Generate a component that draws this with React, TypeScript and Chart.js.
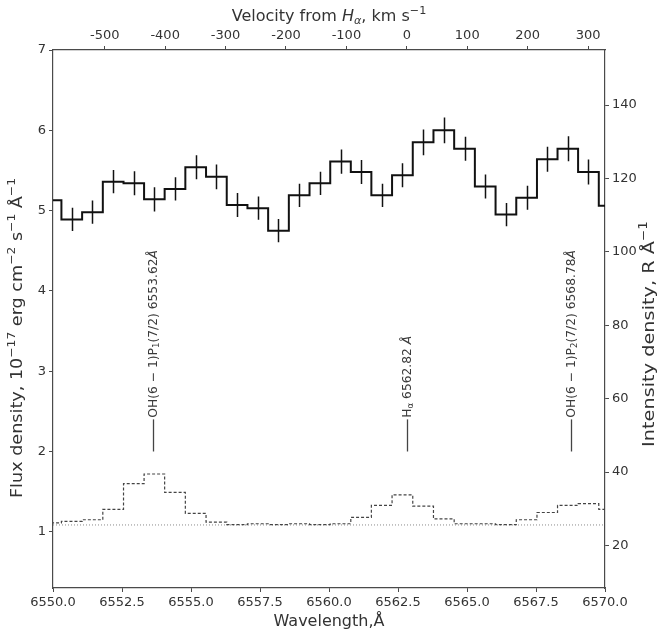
import React, { useEffect, useRef } from 'react';
import { Chart, registerables } from 'chart.js';

Chart.register(...registerables);

// ---------------- data ----------------
const REST_WL = 6562.82; // H-alpha rest wavelength, Å
const C_KMS = 299792.458;
const X_MIN = 6550.0;
const X_MAX = 6570.0;

// spectral bin centres (Å)
const binCenters = [
  6549.93, 6550.68, 6551.43, 6552.18, 6552.93, 6553.67, 6554.42, 6555.17,
  6555.92, 6556.67, 6557.42, 6558.17, 6558.92, 6559.67, 6560.42, 6561.16,
  6561.91, 6562.66, 6563.41, 6564.16, 6564.91, 6565.66, 6566.41, 6567.16,
  6567.91, 6568.65, 6569.40, 6570.15,
];

// observed flux density (10^-17 erg cm^-2 s^-1 Å^-1)
const flux = [
  5.13, 4.89, 4.98, 5.36, 5.34, 5.14, 5.27, 5.54,
  5.42, 5.07, 5.03, 4.75, 5.19, 5.34, 5.61, 5.48,
  5.19, 5.44, 5.85, 6.0, 5.77, 5.3, 4.95, 5.16,
  5.64, 5.77, 5.48, 5.06,
];

// 1-sigma errors
const fluxErr = [
  0.15, 0.145, 0.145, 0.145, 0.15, 0.15, 0.145, 0.15,
  0.155, 0.15, 0.145, 0.145, 0.145, 0.145, 0.15, 0.15,
  0.145, 0.15, 0.16, 0.16, 0.15, 0.15, 0.145, 0.15,
  0.155, 0.155, 0.155, 0.15,
];

// sky / model spectrum (dashed)
const sky = [
  1.11, 1.13, 1.15, 1.28, 1.6, 1.72, 1.49, 1.23,
  1.12, 1.09, 1.1, 1.09, 1.1, 1.09, 1.1, 1.18,
  1.33, 1.46, 1.32, 1.16, 1.1, 1.1, 1.09, 1.15,
  1.24, 1.33, 1.35, 1.28,
];

const continuumLevel = 1.085;

const wavelengthTicks = [6550.0, 6552.5, 6555.0, 6557.5, 6560.0, 6562.5, 6565.0, 6567.5, 6570.0];
const velocityTicks = [-500, -400, -300, -200, -100, 0, 100, 200, 300];
const fluxTicks = [1, 2, 3, 4, 5, 6, 7];
const intensityTicks = [20, 40, 60, 80, 100, 120, 140];

const FLUX_MIN = 0.3;
const FLUX_MAX = 7.0;
const INT_MIN = 8.4;
const INT_MAX = 155;

type Part = { t: string; sub?: boolean; sup?: boolean; italic?: boolean };

const lineWavelengths = [6553.62, 6562.82, 6568.78];
const lineLabels: Part[][] = [
  [{ t: 'OH(6 − 1)P' }, { t: '1', sub: true }, { t: '(7/2) 6553.62' }, { t: 'Å', italic: true }],
  [{ t: 'H' }, { t: 'α', sub: true }, { t: ' 6562.82 ' }, { t: 'Å', italic: true }],
  [{ t: 'OH(6 − 1)P' }, { t: '2', sub: true }, { t: '(7/2) 6568.78' }, { t: 'Å', italic: true }],
];
const markerFrom = 2.0;
const markerTo = 2.4;
const labelStart = 2.42;

const bottomTitle: Part[] = [{ t: 'Wavelength,Å' }];
const topTitle: Part[] = [
  { t: 'Velocity from ' },
  { t: 'H', italic: true },
  { t: 'α', sub: true, italic: true },
  { t: ', km s' },
  { t: '−1', sup: true },
];
const leftTitle: Part[] = [
  { t: 'Flux density, 10' },
  { t: '−17', sup: true },
  { t: ' erg cm' },
  { t: '−2', sup: true },
  { t: ' s' },
  { t: '−1', sup: true },
  { t: ' Å' },
  { t: '−1', sup: true },
];
const rightTitle: Part[] = [
  { t: 'Intensity density, R Å' },
  { t: '−1', sup: true },
];

const toVelocity = (wl: number) => ((wl - REST_WL) / REST_WL) * C_KMS;

// ---------------- styling ----------------
const FONT = 'DejaVu Sans';
const TEXT = '#333333';
const AXIS = '#4a4a4a';
const LABEL_SIZE = 12.3;
const TITLE_SIZE = 16;

function drawRich(
  ctx: CanvasRenderingContext2D,
  parts: Part[],
  x: number,
  y: number,
  rot: number,
  size: number,
  align: 'left' | 'center',
  color: string,
  stretch = 1,
) {
  ctx.save();
  ctx.translate(x, y);
  ctx.rotate(rot);
  ctx.scale(stretch, 1);
  ctx.fillStyle = color;
  ctx.textBaseline = 'middle';
  ctx.textAlign = 'left';
  const fontFor = (p: Part) =>
    `${p.italic ? 'italic ' : ''}${p.sub || p.sup ? size * 0.7 : size}px "${FONT}"`;
  let total = 0;
  parts.forEach((p) => {
    ctx.font = fontFor(p);
    total += ctx.measureText(p.t).width;
  });
  let cx = align === 'center' ? -total / 2 : 0;
  parts.forEach((p) => {
    ctx.font = fontFor(p);
    const dy = p.sub ? size * 0.28 : p.sup ? -size * 0.36 : 0;
    ctx.fillText(p.t, cx, dy);
    cx += ctx.measureText(p.t).width;
  });
  ctx.restore();
}

const overlayPlugin = {
  id: 'overlay',
  afterDatasetsDraw(chart: any) {
    const { ctx, chartArea, scales } = chart;
    const xs = scales.x;
    const ys = scales.y;
    ctx.save();
    ctx.beginPath();
    ctx.rect(chartArea.left, chartArea.top, chartArea.right - chartArea.left, chartArea.bottom - chartArea.top);
    ctx.clip();

    // error bars
    ctx.strokeStyle = '#111';
    ctx.lineWidth = 1.5;
    ctx.beginPath();
    binCenters.forEach((w, i) => {
      const px = Math.round(xs.getPixelForValue(w)) + 0.5;
      ctx.moveTo(px, ys.getPixelForValue(flux[i] - fluxErr[i]));
      ctx.lineTo(px, ys.getPixelForValue(flux[i] + fluxErr[i]));
    });
    ctx.stroke();

    // line markers and labels
    lineWavelengths.forEach((wl, i) => {
      const px = Math.round(xs.getPixelForValue(wl)) + 0.5;
      ctx.strokeStyle = '#444';
      ctx.lineWidth = 1.3;
      ctx.beginPath();
      ctx.moveTo(px, ys.getPixelForValue(markerFrom));
      ctx.lineTo(px, ys.getPixelForValue(markerTo));
      ctx.stroke();
      drawRich(ctx, lineLabels[i], px, ys.getPixelForValue(labelStart), -Math.PI / 2, LABEL_SIZE, 'left', '#3a3a3a');
    });
    ctx.restore();
  },
  afterDraw(chart: any) {
    const { ctx, chartArea } = chart;
    const midX = (chartArea.left + chartArea.right) / 2;
    drawRich(ctx, bottomTitle, midX, 622, 0, TITLE_SIZE, 'center', TEXT);
    drawRich(ctx, topTitle, midX, 17, 0, TITLE_SIZE, 'center', TEXT);
    drawRich(ctx, leftTitle, 18, 338, -Math.PI / 2, TITLE_SIZE, 'center', TEXT, 1.1);
    drawRich(ctx, rightTitle, 650, 334, -Math.PI / 2, 16.5, 'center', TEXT, 1.17);
  },
};

export default function App() {
  const canvasRef = useRef<HTMLCanvasElement | null>(null);

  useEffect(() => {
    document.body.style.margin = '0';
    const canvas = canvasRef.current;
    if (!canvas) return;
    Chart.defaults.font.family = FONT;

    const tickFont = { size: 13, family: FONT };
    const grid = {
      drawOnChartArea: false,
      drawTicks: true,
      tickLength: 4,
      color: AXIS,
      lineWidth: 1,
    };
    const border = { display: true, color: AXIS, width: 1.2 };

    const chart = new Chart(canvas, {
      type: 'line',
      data: {
        datasets: [
          {
            label: 'continuum',
            data: [
              { x: X_MIN, y: continuumLevel },
              { x: X_MAX, y: continuumLevel },
            ],
            borderColor: '#8a8a8a',
            borderWidth: 1,
            borderDash: [1, 2],
            pointRadius: 0,
            fill: false,
            clip: 0,
            order: 3,
          },
          {
            label: 'sky',
            data: binCenters.map((x, i) => ({ x, y: sky[i] })),
            stepped: 'middle',
            borderColor: '#444',
            borderWidth: 1.2,
            borderDash: [3, 2],
            pointRadius: 0,
            fill: false,
            clip: 0,
            order: 2,
          },
          {
            label: 'flux',
            data: binCenters.map((x, i) => ({ x, y: flux[i] })),
            stepped: 'middle',
            borderColor: '#111',
            borderWidth: 2,
            pointRadius: 0,
            fill: false,
            clip: 0,
            order: 1,
          },
        ],
      },
      options: {
        animation: false,
        responsive: false,
        devicePixelRatio: 1,
        layout: { padding: 0 },
        plugins: {
          legend: { display: false },
          tooltip: { enabled: false },
        },
        scales: {
          x: {
            type: 'linear',
            position: 'bottom',
            min: X_MIN,
            max: X_MAX,
            afterBuildTicks: (s: any) => {
              s.ticks = wavelengthTicks.map((v) => ({ value: v }));
            },
            afterFit: (s: any) => {
              s.height = 47;
            },
            ticks: {
              font: tickFont,
              color: TEXT,
              padding: 3,
              maxRotation: 0,
              autoSkip: false,
              callback: (v: any) => Number(v).toFixed(1),
            },
            grid,
            border,
          },
          x2: {
            type: 'linear',
            position: 'top',
            min: toVelocity(X_MIN),
            max: toVelocity(X_MAX),
            afterBuildTicks: (s: any) => {
              s.ticks = velocityTicks.map((v) => ({ value: v }));
            },
            afterFit: (s: any) => {
              s.height = 50;
            },
            ticks: {
              font: tickFont,
              color: TEXT,
              padding: 3,
              maxRotation: 0,
              autoSkip: false,
              callback: (v: any) => String(v),
            },
            grid,
            border,
          },
          y: {
            type: 'linear',
            position: 'left',
            min: FLUX_MIN,
            max: FLUX_MAX,
            afterBuildTicks: (s: any) => {
              s.ticks = fluxTicks.map((v) => ({ value: v }));
            },
            afterFit: (s: any) => {
              s.width = 53;
            },
            ticks: {
              font: tickFont,
              color: TEXT,
              padding: 3,
              callback: (v: any) => String(v),
            },
            grid,
            border,
          },
          y2: {
            type: 'linear',
            position: 'right',
            min: INT_MIN,
            max: INT_MAX,
            afterBuildTicks: (s: any) => {
              s.ticks = intensityTicks.map((v) => ({ value: v }));
            },
            afterFit: (s: any) => {
              s.width = 55;
            },
            ticks: {
              font: tickFont,
              color: TEXT,
              padding: 3,
              callback: (v: any) => String(v),
            },
            grid,
            border,
          },
        },
      },
      plugins: [overlayPlugin],
    } as any);

    return () => chart.destroy();
  }, []);

  return (
    <div style={{ width: 660, height: 635, background: '#fff' }}>
      <canvas ref={canvasRef} width={660} height={635} style={{ display: 'block' }} />
    </div>
  );
}
